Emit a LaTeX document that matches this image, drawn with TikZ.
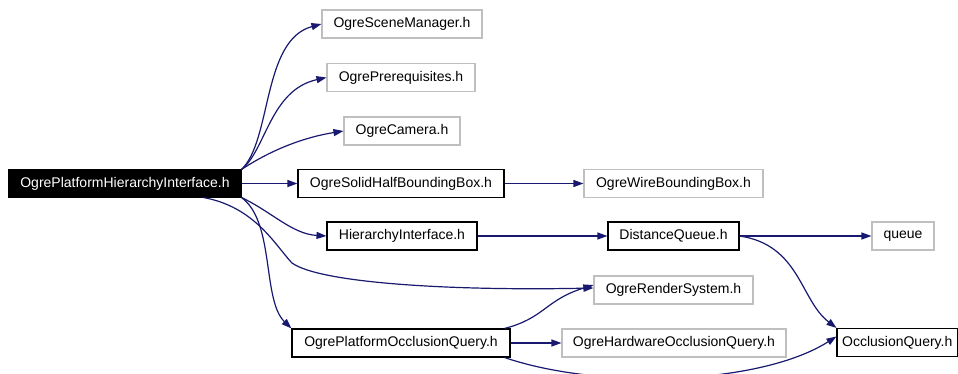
\documentclass[tikz,border=0pt]{standalone}
\usepackage{fontspec}
\setmainfont{Liberation Sans}
\usetikzlibrary{arrows.meta}
\definecolor{edgeblue}{HTML}{191970}
\definecolor{graybox}{HTML}{BFBFBF}
\begin{document}
\begin{tikzpicture}[x=1pt,y=-1pt,
  box/.style={draw=black, line width=1.1pt, minimum height=28pt, inner sep=0pt, font=\fontsize{14}{16}\selectfont, anchor=center},
  gbox/.style={box, draw=graybox},
  mainbox/.style={box, fill=black, text=white, draw=black},
  edge/.style={draw=edgeblue, line width=1.2pt, -{Triangle[length=10pt,width=7pt]}}]
\useasboundingbox[fill=white] (0,0) rectangle (958,374);
\node[mainbox, minimum width=232pt, minimum height=27pt] (main) at (125,183.5) {OgrePlatformHierarchyInterface.h};
\node[gbox, minimum width=160pt] (scene) at (402,24) {OgreSceneManager.h};
\node[gbox, minimum width=148pt] (prereq) at (401,77.5) {OgrePrerequisites.h};
\node[gbox, minimum width=116pt] (camera) at (402,131) {OgreCamera.h};
\node[box, minimum width=206pt] (solid) at (401,183.5) {OgreSolidHalfBoundingBox.h};
\node[gbox, minimum width=179pt] (wire) at (673.5,183.5) {OgreWireBoundingBox.h};
\node[box, minimum width=150pt] (hier) at (402,236) {HierarchyInterface.h};
\node[box, minimum width=131pt] (dist) at (673.5,236) {DistanceQueue.h};
\node[gbox, minimum width=62pt] (queue) at (903,236) {queue};
\node[gbox, minimum width=159pt] (render) at (673.5,290) {OgreRenderSystem.h};
\node[box, minimum width=218pt] (poq) at (401,343) {OgrePlatformOcclusionQuery.h};
\node[gbox, minimum width=224pt] (hoq) at (674,343) {OgreHardwareOcclusionQuery.h};
\node[box, minimum width=120.5pt] (oq) at (897.25,342.5) {OcclusionQuery.h};

\draw[edge] (main.north east) .. controls (272,140) and (262,40) .. (scene.west);
\draw[edge] (main.north east) .. controls (266,150) and (270,90) .. (prereq.west);
\draw[edge] (main.north east) .. controls (268,152) and (300,138) .. (camera.west);
\draw[edge] (main.east) -- (solid.west);
\draw[edge] (solid.east) -- (wire.west);
\draw[edge] (main.south east) .. controls (272,212) and (292,234) .. (hier.west);
\draw[edge] (hier.east) -- (dist.west);
\draw[edge] (dist.east) -- (queue.west);
\draw[edge] (dist.east) .. controls (800,245) and (800,300) .. (oq.north west);
\draw[edge] (main.south east) .. controls (275,222) and (262,300) .. (poq.north west);
\draw[edge] ([xshift=-38pt]main.south east) .. controls (255,207) and (275,245) .. (292,263) .. controls (320,283) and (450,291) .. ([yshift=2pt]render.west);
\draw[edge] ([xshift=-6pt]poq.north east) .. controls (545,318) and (545,300) .. ([yshift=5pt]render.west);
\draw[edge] (poq.east) -- (hoq.west);
\draw[edge] ([xshift=-6pt]poq.south east) .. controls (600,390) and (760,385) .. ([yshift=6pt]oq.west);
\end{tikzpicture}
\end{document}
